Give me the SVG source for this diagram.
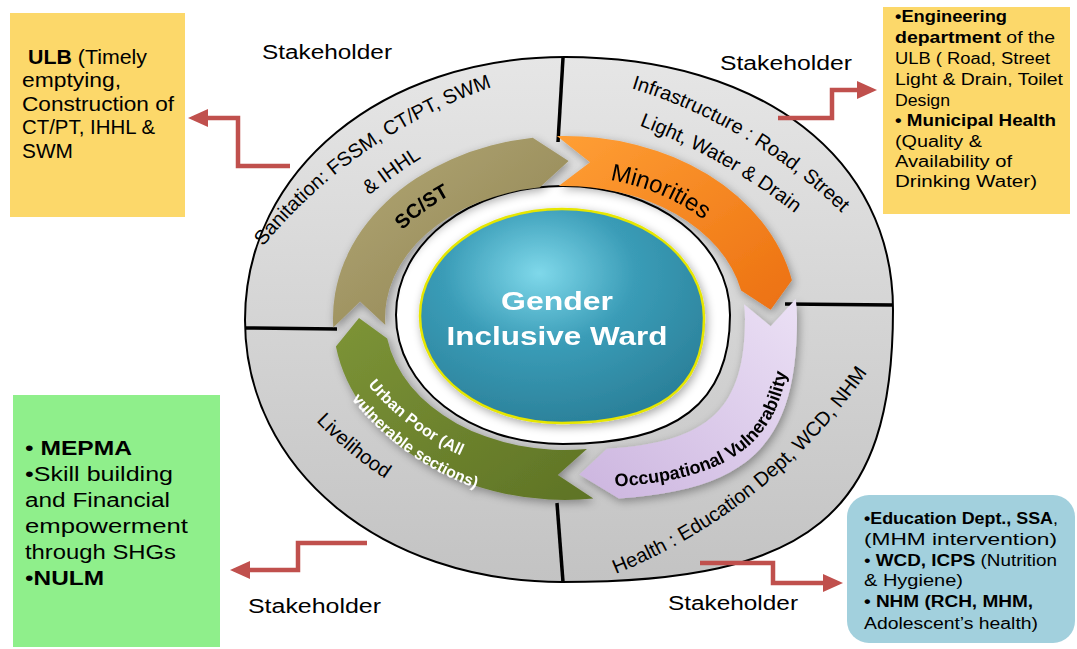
<svg xmlns="http://www.w3.org/2000/svg" xmlns:xlink="http://www.w3.org/1999/xlink" width="1077" height="649" viewBox="0 0 1077 649">
<style>
text{font-family:"Liberation Sans",Arial,sans-serif;fill:#000}
.b{font-weight:bold}
.box{font-size:20px}
.sm{font-size:16px}
.stk{font-size:20px}
.ring{font-size:20px}
.conn{fill:none;stroke:#c0504d;stroke-width:4.5;marker-end:url(#ah)}
.div{stroke:#000;stroke-width:3.5}
</style>
<defs>
<marker id="ah" markerUnits="userSpaceOnUse" markerWidth="20" markerHeight="18" viewBox="0 0 20 18" refX="14" refY="9" orient="auto"><path d="M0,0 L20,9 L0,18 Z" fill="#c0504d"/></marker>
<linearGradient id="gRing" x1="0" y1="0" x2="0" y2="1"><stop offset="0" stop-color="#e6e6e6"/><stop offset="1" stop-color="#c3c3c3"/></linearGradient>
<radialGradient id="gTeal" cx="0.42" cy="0.3" r="0.75"><stop offset="0" stop-color="#7fd8ea"/><stop offset="0.45" stop-color="#3a9cb7"/><stop offset="1" stop-color="#2a7f98"/></radialGradient>
<linearGradient id="gKh" x1="0" y1="0" x2="1" y2="1"><stop offset="0" stop-color="#b3a875"/><stop offset="1" stop-color="#8d8151"/></linearGradient>
<linearGradient id="gOr" x1="0" y1="0" x2="1" y2="1"><stop offset="0" stop-color="#ff9f35"/><stop offset="1" stop-color="#ec7010"/></linearGradient>
<linearGradient id="gLv" x1="1" y1="0" x2="0" y2="1"><stop offset="0" stop-color="#ebe0f5"/><stop offset="1" stop-color="#ccb5df"/></linearGradient>
<linearGradient id="gGr" x1="0" y1="0" x2="1" y2="1"><stop offset="0" stop-color="#7d9437"/><stop offset="1" stop-color="#5e7325"/></linearGradient>
<filter id="sh" x="-15%" y="-15%" width="130%" height="130%"><feGaussianBlur in="SourceAlpha" stdDeviation="5"/><feOffset dx="2" dy="3"/><feComponentTransfer><feFuncA type="linear" slope="0.35"/></feComponentTransfer><feMerge><feMergeNode/><feMergeNode in="SourceGraphic"/></feMerge></filter>
<path id="tpSan1" d="M265,244 A520,520 0 0 1 489,88"/>
<path id="tpSan2" d="M342,218 A600,600 0 0 1 452,140"/>
<path id="tpInf1" d="M627,87 A520,520 0 0 1 845,216"/>
<path id="tpInf2" d="M638,125 A600,600 0 0 1 796,214"/>
<path id="tpHea" d="M613,575 A560,560 0 0 0 869,370"/>
<path id="tpLiv" d="M317,422 A400,400 0 0 0 384,478"/>
<path id="tpSC" d="M370.5,283 A200,150 0 0 1 508.2,174.2"/>
<path id="tpMin" d="M568.4,176 A192,142 0 0 1 732.9,249.2"/>
<path id="tpOcc" d="M565,488 C737,488 791,446 791,318"/>
<path id="tpUr1" d="M367,384 A260,260 0 0 0 462,456"/>
<path id="tpUr2" d="M350,397 A280,280 0 0 0 478,489"/>
</defs>
<rect width="1077" height="649" fill="#fff"/>

<g id="ring">
<path d="M565,57 C761.8,57 893,158.2 893,310 C893,514 810.3,582 562,582 C381.3,582 245,469.3 245,320 C245,170.1 382.6,57 565,57 Z" fill="url(#gRing)" stroke="#000" stroke-width="2"/>
<line class="div" x1="563" y1="58" x2="558" y2="142"/>
<line class="div" x1="785" y1="304" x2="893" y2="305"/>
<line class="div" x1="557" y1="503" x2="563" y2="582"/>
<line class="div" x1="246" y1="328" x2="337" y2="329"/>
<text class="ring"><textPath href="#tpSan1" startOffset="50%" text-anchor="middle">Sanitation: FSSM, CT/PT, SWM</textPath></text>
<text class="ring"><textPath href="#tpSan2" startOffset="50%" text-anchor="middle">&amp; IHHL</textPath></text>
<text class="ring"><textPath href="#tpInf1" startOffset="50%" text-anchor="middle">Infrastructure : Road, Street</textPath></text>
<text class="ring"><textPath href="#tpInf2" startOffset="50%" text-anchor="middle">Light, Water &amp; Drain</textPath></text>
<text class="ring"><textPath href="#tpHea" startOffset="50%" text-anchor="middle">Health : Education Dept, WCD, NHM</textPath></text>
<text class="ring"><textPath href="#tpLiv" startOffset="50%" text-anchor="middle">Livelihood</textPath></text>
</g>

<g id="inner-disc">
<path d="M563,186 C656.5,186 730,242.8 730,315 C730,402.7 676.6,444 563,444 C469.5,444 396,387.2 396,315 C396,242.8 469.5,186 563,186 Z" fill="#fff" stroke="#000" stroke-width="2"/>
</g>

<g id="arrow-scst" filter="url(#sh)">
<path d="M333.3,327.5 A232,182 0 0 1 532.7,137.8 L568.6,161 L539.9,187.3 A180,132 0 0 0 385.3,324.9 L360.1,301.6 Z" fill="url(#gKh)"/>
<text class="b" font-size="20"><textPath href="#tpSC" startOffset="50%" text-anchor="middle">SC/ST</textPath></text>
</g>
<g id="arrow-minorities" filter="url(#sh)">
<path d="M556.9,136.1 A232,182 0 0 1 791.9,280.2 L770.7,309.8 L741.1,290.6 A180,132 0 0 0 558.7,186.1 L590.1,162.2 Z" fill="url(#gOr)"/>
<text font-size="24"><textPath href="#tpMin" startOffset="50%" text-anchor="middle">Minorities</textPath></text>
</g>
<g id="arrow-occupational" filter="url(#sh)">
<path d="M795.7,299 A232,182 0 0 1 797,318 C797,441.1 752.9,489.3 618.9,498.4 L579.4,474.6 L606.8,448.8 C710.8,442.2 745,407.3 745,318 A180,132 0 0 0 744,304.2 L770.7,326.2 Z" fill="url(#gLv)"/>
<text class="b" font-size="18"><textPath href="#tpOcc" startOffset="50">Occupational Vulnerability</textPath></text>
</g>
<g id="arrow-urbanpoor" filter="url(#sh)">
<path d="M593.3,498.6 A232,182 0 0 1 335.9,346.5 L359,318 L387.2,338.6 A180,132 0 0 0 586.9,449 L557.8,474.9 Z" fill="url(#gGr)"/>
<text class="b" font-size="16" style="fill:#fff"><textPath href="#tpUr1" startOffset="50%" text-anchor="middle">Urban Poor (All</textPath></text>
<text class="b" font-size="16" style="fill:#fff"><textPath href="#tpUr2" startOffset="50%" text-anchor="middle">vulnerable sections)</textPath></text>
</g>

<g id="center" filter="url(#sh)">
<path d="M562,209 C641.5,209 704,257 704,318 C704,389.4 658.6,423 562,423 C482.5,423 420,375.9 420,316 C420,256.1 482.5,209 562,209 Z" fill="url(#gTeal)" stroke="#e6e600" stroke-width="2.5"/>
<text class="b" x="557" y="310" font-size="26" text-anchor="middle" textLength="112" lengthAdjust="spacingAndGlyphs" style="fill:#fff">Gender</text>
<text class="b" x="557" y="345" font-size="26" text-anchor="middle" textLength="221" lengthAdjust="spacingAndGlyphs" style="fill:#fff">Inclusive Ward</text>
</g>

<g id="labels">
<text class="stk" x="262" y="59" textLength="130" lengthAdjust="spacingAndGlyphs">Stakeholder</text>
<text class="stk" x="720" y="70" textLength="132" lengthAdjust="spacingAndGlyphs">Stakeholder</text>
<text class="stk" x="248" y="613" textLength="133" lengthAdjust="spacingAndGlyphs">Stakeholder</text>
<text class="stk" x="668" y="610" textLength="130" lengthAdjust="spacingAndGlyphs">Stakeholder</text>
</g>

<g id="box-ulb">
<rect x="10" y="13" width="175" height="204" fill="#fcd86a"/>
<text class="box" x="28" y="63.5" textLength="119" lengthAdjust="spacingAndGlyphs"><tspan class="b">ULB</tspan> (Timely</text>
<text class="box" x="22" y="87" textLength="99" lengthAdjust="spacingAndGlyphs">emptying,</text>
<text class="box" x="22" y="110.5" textLength="152" lengthAdjust="spacingAndGlyphs">Construction of</text>
<text class="box" x="22" y="134" textLength="133" lengthAdjust="spacingAndGlyphs">CT/PT, IHHL &amp;</text>
<text class="box" x="22" y="157.5" textLength="51" lengthAdjust="spacingAndGlyphs">SWM</text>
</g>

<g id="box-engineering">
<rect x="883" y="7" width="187" height="207" fill="#fcd86a"/>
<text class="sm b" x="895" y="22" textLength="112" lengthAdjust="spacingAndGlyphs">•Engineering</text>
<text class="sm" x="895" y="43" textLength="160" lengthAdjust="spacingAndGlyphs"><tspan class="b">department</tspan> of the</text>
<text class="sm" x="895" y="64" textLength="155" lengthAdjust="spacingAndGlyphs">ULB ( Road, Street</text>
<text class="sm" x="895" y="85" textLength="168" lengthAdjust="spacingAndGlyphs">Light &amp; Drain, Toilet</text>
<text class="sm" x="895" y="106" textLength="55" lengthAdjust="spacingAndGlyphs">Design</text>
<text class="sm b" x="895" y="126" textLength="161" lengthAdjust="spacingAndGlyphs">• Municipal Health</text>
<text class="sm" x="895" y="147" textLength="87" lengthAdjust="spacingAndGlyphs">(Quality &amp;</text>
<text class="sm" x="895" y="167" textLength="117" lengthAdjust="spacingAndGlyphs">Availability of</text>
<text class="sm" x="895" y="187" textLength="142" lengthAdjust="spacingAndGlyphs">Drinking Water)</text>
</g>

<g id="box-mepma">
<rect x="13" y="395" width="207" height="252" fill="#8fef8b"/>
<text class="box" x="25" y="455" textLength="107" lengthAdjust="spacingAndGlyphs">• <tspan class="b">MEPMA</tspan></text>
<text class="box" x="25" y="481" textLength="148" lengthAdjust="spacingAndGlyphs">•Skill building</text>
<text class="box" x="25" y="506.5" textLength="145" lengthAdjust="spacingAndGlyphs">and Financial</text>
<text class="box" x="25" y="532.5" textLength="163" lengthAdjust="spacingAndGlyphs">empowerment</text>
<text class="box" x="25" y="558.5" textLength="151" lengthAdjust="spacingAndGlyphs">through SHGs</text>
<text class="box" x="25" y="585" textLength="79" lengthAdjust="spacingAndGlyphs">•<tspan class="b">NULM</tspan></text>
</g>

<g id="box-education">
<rect x="847" y="495" width="228" height="148" rx="22" ry="22" fill="#a2d0dd"/>
<text class="sm" x="864" y="524" textLength="194" lengthAdjust="spacingAndGlyphs"><tspan class="b">•Education Dept., SSA</tspan>,</text>
<text class="sm" x="864" y="545" textLength="193" lengthAdjust="spacingAndGlyphs">(MHM intervention)</text>
<text class="sm" x="864" y="566" textLength="193" lengthAdjust="spacingAndGlyphs">• <tspan class="b">WCD, ICPS</tspan> (Nutrition</text>
<text class="sm" x="864" y="586" textLength="99" lengthAdjust="spacingAndGlyphs">&amp; Hygiene)</text>
<text class="sm b" x="864" y="607" textLength="169" lengthAdjust="spacingAndGlyphs">• NHM (RCH, MHM,</text>
<text class="sm" x="864" y="629" textLength="174" lengthAdjust="spacingAndGlyphs">Adolescent’s health)</text>
</g>

<g id="connectors">
<path class="conn" d="M290,166 H238 V118 H194"/>
<path class="conn" d="M778,118 H832 V90 H871"/>
<path class="conn" d="M367,543 H298 V570 H236"/>
<path class="conn" d="M700,563 H773 V583 H837"/>
</g>
</svg>
